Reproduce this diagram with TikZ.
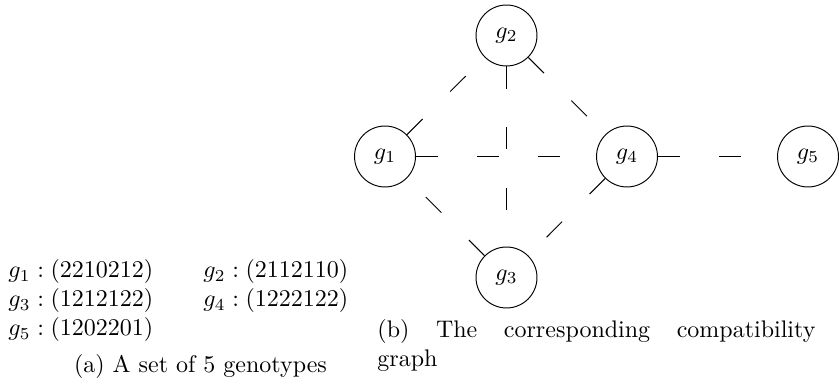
\documentclass[tikz,border=0pt]{standalone}
\begin{document}
\begin{tikzpicture}[x=0.41667pt,y=-0.41667pt,
  gnode/.style={draw,circle,minimum size=25.4pt,inner sep=0pt,line width=0.4pt},
  link/.style={line width=0.4pt,dash pattern=on 9.2pt off 16.2pt},
  txt/.style={inner sep=0pt,anchor=base west}]
\useasboundingbox (0,0) rectangle (839,388);
\node[gnode] (g1) at (385,156.5) {$g_1$};
\node[gnode] (g2) at (506.5,35.5) {$g_2$};
\node[gnode] (g3) at (506.5,277.5) {$g_3$};
\node[gnode] (g4) at (627,156.5) {$g_4$};
\node[gnode] (g5) at (808,156.5) {$g_5$};
\draw[link] (g1) -- (g2);
\draw[link] (g1) -- (g4);
\draw[link] (g3) -- (g1);
\draw[link] (g2) -- (g4);
\draw[link] (g2) -- (g3);
\draw[link] (g4) -- (g3);
\draw[link] (g4) -- (g5);
\node[txt] (t1) at (8,278) {$g_1:(2210212)$};
\node[txt] (t2) at (203,278) {$g_2:(2112110)$};
\node[txt] (t3) at (8,307) {$g_3:(1212122)$};
\node[txt] (t4) at (203,307) {$g_4:(1222122)$};
\node[txt] (t5) at (8,336) {$g_5:(1202201)$};
\node[inner sep=0pt,anchor=base] (capa) at (200.5,373) {(a) A set of 5 genotypes};
\node[txt] (capb1) at (377,338) {\hbox to 182.5pt{(b)\hfill The\hfill corresponding\hfill compatibility}};
\node[txt] (capb2) at (377,367) {graph};
\end{tikzpicture}
\end{document}
